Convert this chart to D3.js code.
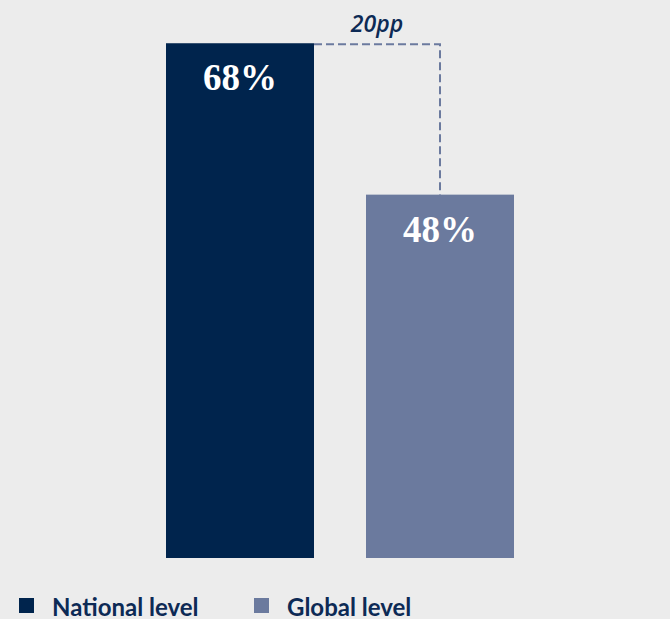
<!DOCTYPE html>
<html>
<head>
<meta charset="utf-8">
<script src="https://cdn.jsdelivr.net/npm/d3@7"></script>
<style>
  html, body { margin: 0; padding: 0; background: #ececec; }
  svg { display: block; }
</style>
</head>
<body>
<div id="chart"></div>
<script>
// Share of respondents, national vs global
const categories = ["National level", "Global level"];
const values = [68, 48];
const colors = ["#00244d", "#6b7a9e"];
const diffUnit = "pp";

const width = 670, height = 619;

const svg = d3.select("#chart").append("svg")
  .attr("width", width)
  .attr("height", height);

svg.append("rect").attr("width", width).attr("height", height).attr("fill", "#ececec");

const x = d3.scaleBand()
  .domain(categories)
  .range([140, 540])
  .paddingInner(0.26)
  .paddingOuter(0.13);

const y = d3.scaleLinear()
  .domain([0, 100])
  .range([558, -199]);

const color = d3.scaleOrdinal().domain(categories).range(colors);

const data = categories.map((c, i) => ({ cat: c, value: values[i] }));

// Bars
svg.selectAll("rect.bar")
  .data(data)
  .join("rect")
  .attr("class", "bar")
  .attr("x", d => x(d.cat))
  .attr("y", d => y(d.value))
  .attr("width", x.bandwidth())
  .attr("height", d => y(0) - y(d.value))
  .attr("fill", d => color(d.cat));

// Value labels inside the bars
svg.selectAll("text.val")
  .data(data)
  .join("text")
  .attr("class", "val")
  .attr("x", d => x(d.cat) + x.bandwidth() / 2)
  .attr("y", d => y(d.value) + 47)
  .attr("text-anchor", "middle")
  .attr("fill", "#ffffff")
  .style("font-family", "'Liberation Serif', serif")
  .style("font-weight", "bold")
  .style("font-size", "37px")
  .text(d => d.value + "%");

// Dashed connector showing the gap between the two bars
const x0 = x(categories[0]) + x.bandwidth();
const x1 = x(categories[1]) + x.bandwidth() / 2;
const yTop = y(values[0]);
const yLow = y(values[1]);

svg.append("path")
  .attr("d", d3.line()([[x0, yTop + 1], [x1, yTop + 1], [x1, yLow]]))
  .attr("fill", "none")
  .attr("stroke", "#6b7a9e")
  .attr("stroke-width", 2)
  .attr("stroke-dasharray", "8,4");

svg.append("text")
  .attr("x", (x0 + x1) / 2)
  .attr("y", yTop - 11)
  .attr("text-anchor", "middle")
  .attr("fill", "#0d2a55")
  .style("font-family", "'Open Sans', sans-serif")
  .style("font-style", "italic")
  .style("font-weight", "600")
  .style("font-size", "23px")
  .text((values[0] - values[1]) + diffUnit);

// Legend
const legendX = [19, 254];
const legend = svg.selectAll("g.legend")
  .data(data)
  .join("g")
  .attr("class", "legend")
  .attr("transform", (d, i) => `translate(${legendX[i]},598)`);

legend.append("rect")
  .attr("width", 15)
  .attr("height", 15)
  .attr("fill", d => color(d.cat));

legend.append("text")
  .attr("x", 33)
  .attr("y", 18)
  .attr("fill", "#0d2a55")
  .style("font-family", "Lato, sans-serif")
  .style("font-weight", "bold")
  .style("font-size", "24px")
  .text(d => d.cat);
</script>
</body>
</html>
